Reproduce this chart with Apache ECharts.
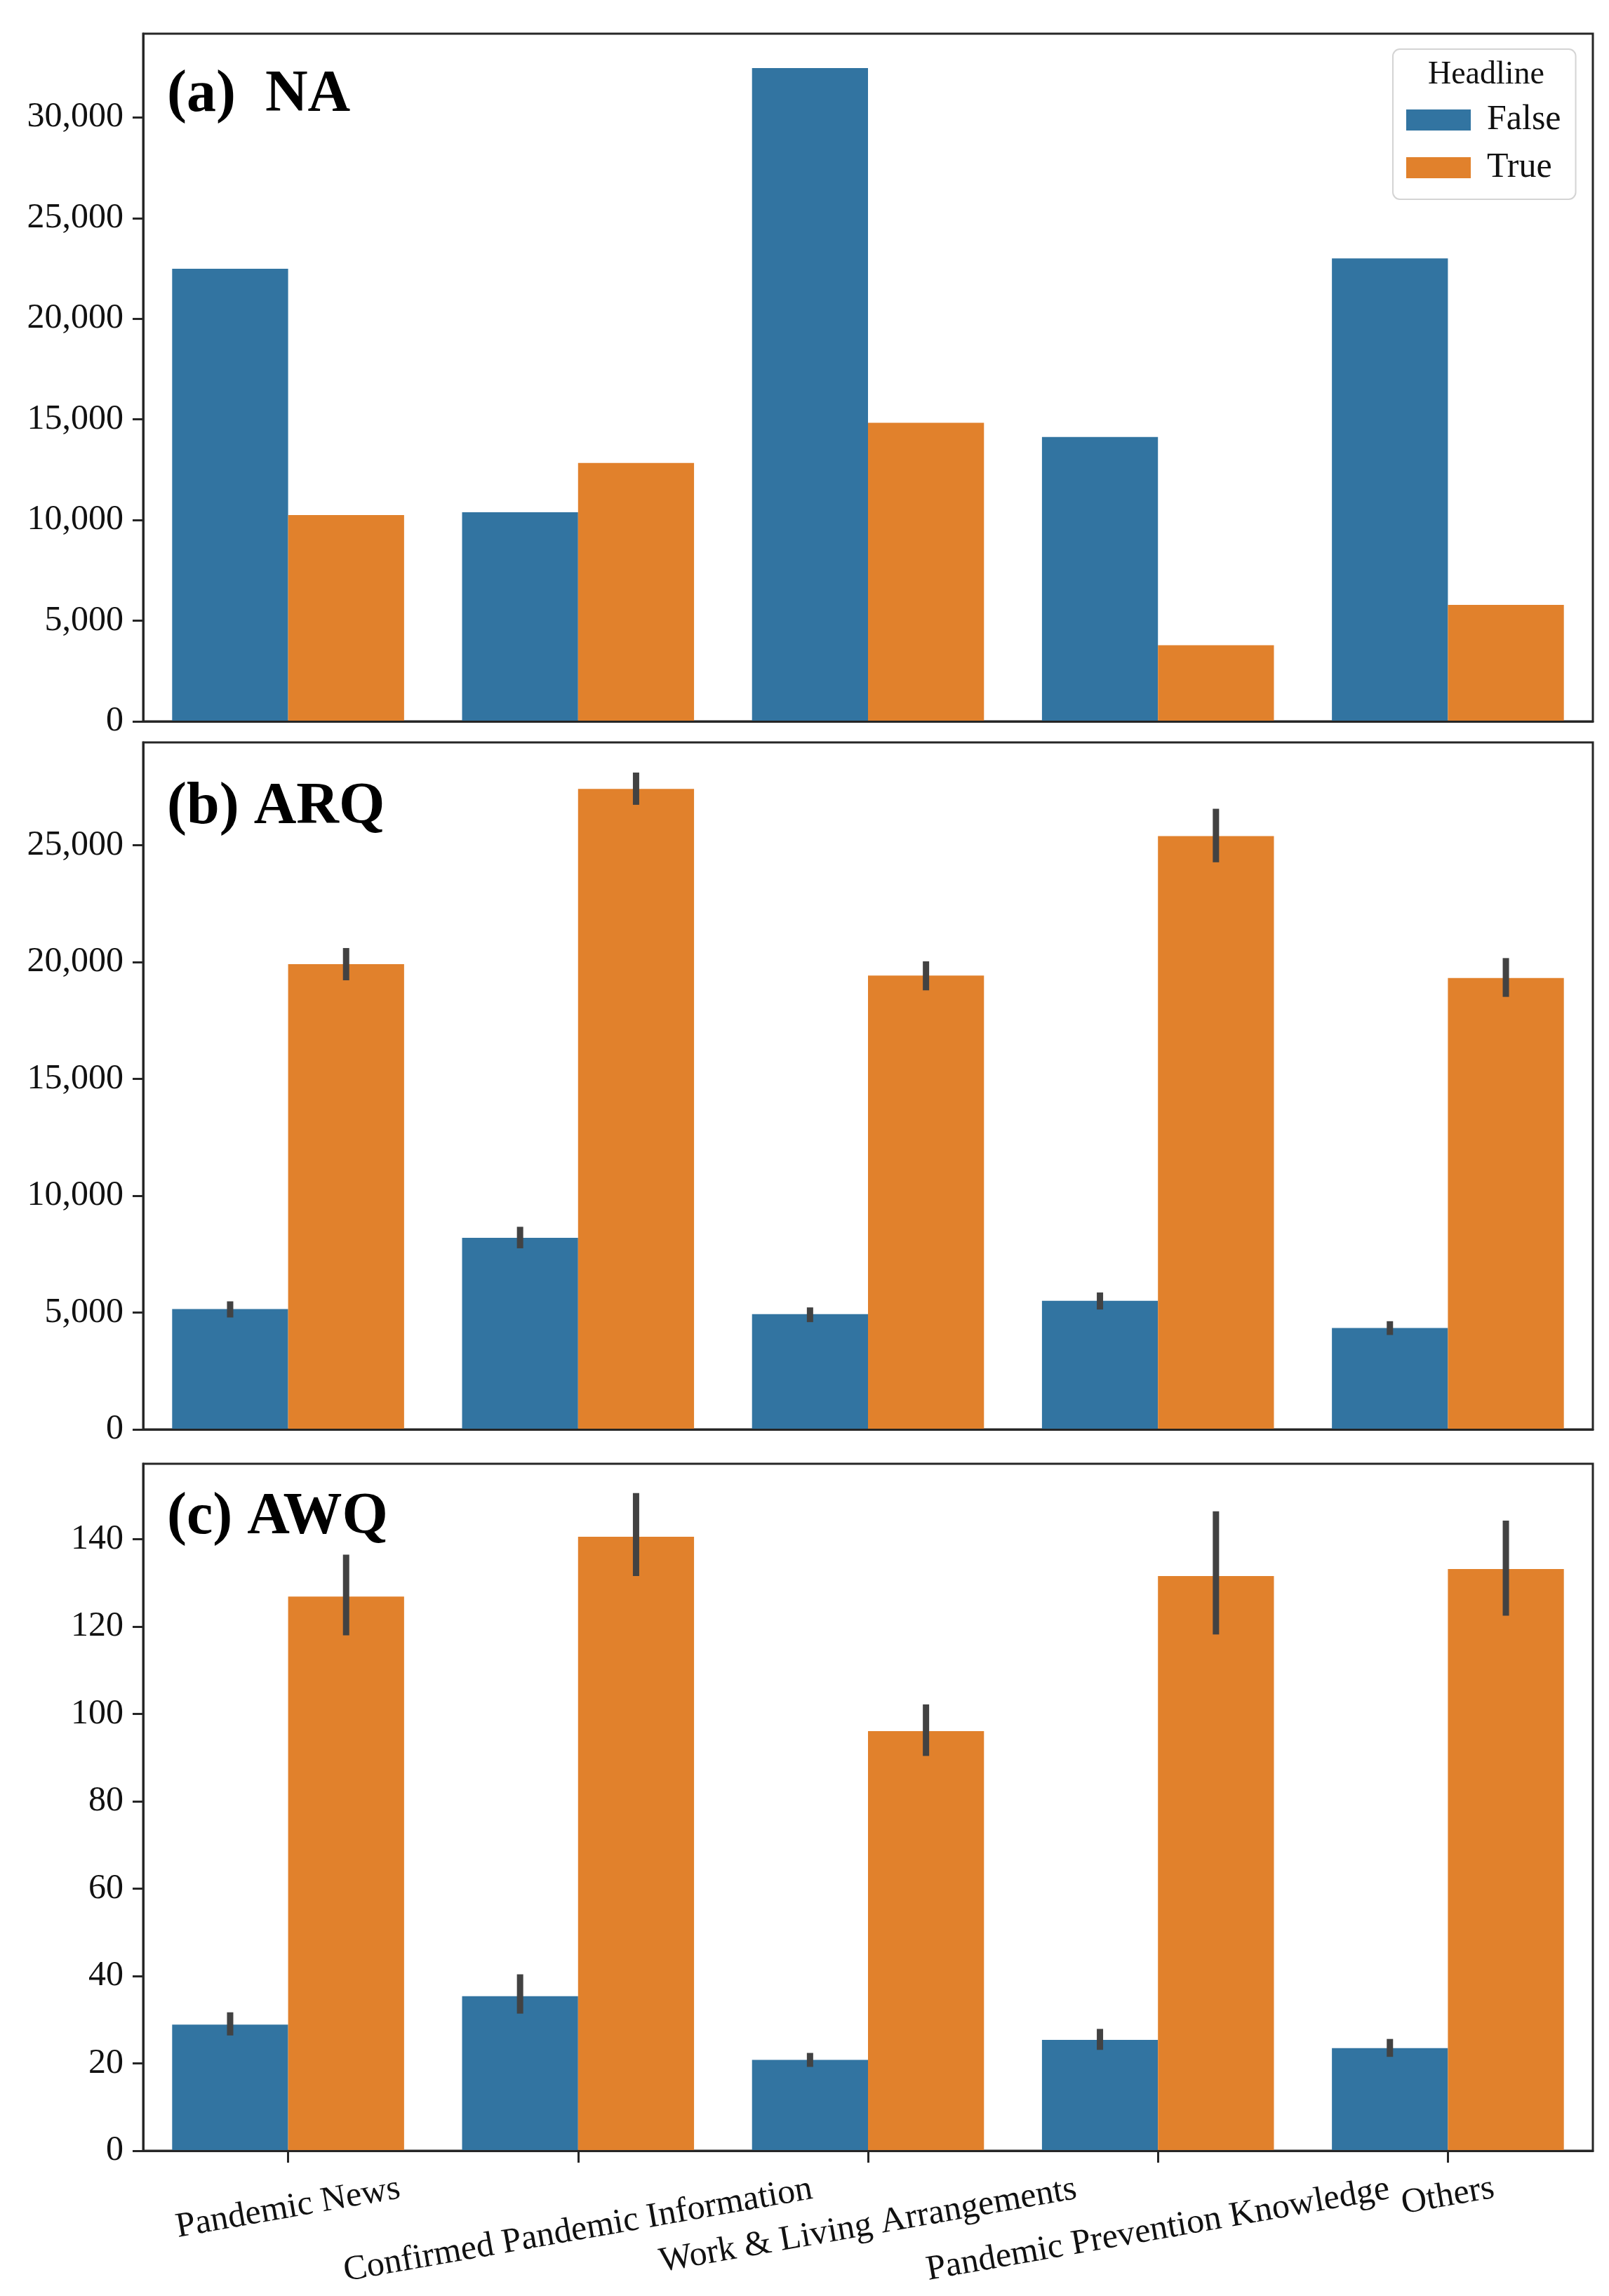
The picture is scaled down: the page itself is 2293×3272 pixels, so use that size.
<!DOCTYPE html>
<html>
<head>
<meta charset="utf-8">
<script src="https://cdn.jsdelivr.net/npm/echarts@6/dist/echarts.min.js"></script>
<style>
html,body{margin:0;padding:0;background:#fff;}
#chart{width:2293px;height:3272px;}
</style>
</head>
<body>
<div id="chart"></div>
<script>
// ---------- data ----------
const categories = ['Pandemic News', 'Confirmed Pandemic Information', 'Work & Living Arrangements', 'Pandemic Prevention Knowledge', 'Others'];
const seriesNames = ['False', 'True'];
const legendTitle = 'Headline';
const panelTitles = ['(a)  NA', '(b) ARQ', '(c) AWQ'];

const naFalse = [22480, 10390, 32450, 14130, 23000];
const naTrue  = [10250, 12840, 14830, 3780, 5790];

const arqFalse = [5150, 8200, 4930, 5500, 4340];
const arqTrue  = [19910, 27410, 19420, 25390, 19320];
const arqFalseCI = [[4790, 5480], [7750, 8670], [4590, 5220], [5130, 5860], [4040, 4630]];
const arqTrueCI  = [[19220, 20600], [26730, 28110], [18790, 20030], [24270, 26560], [18510, 20170]];

const awqFalse = [28.9, 35.4, 20.8, 25.4, 23.5];
const awqTrue  = [126.9, 140.6, 96.1, 131.6, 133.2];
const awqFalseCI = [[26.4, 31.7], [31.4, 40.4], [19.2, 22.4], [23.1, 27.9], [21.5, 25.6]];
const awqTrueCI  = [[118.0, 136.5], [131.6, 150.6], [90.4, 102.2], [118.2, 146.4], [122.5, 144.3]];

const yTicksNA  = [0, 5000, 10000, 15000, 20000, 25000, 30000];
const yTicksARQ = [0, 5000, 10000, 15000, 20000, 25000];
const yTicksAWQ = [0, 20, 40, 60, 80, 100, 120, 140];

// ---------- styling / layout ----------
const FONT = '"Liberation Serif", "Times New Roman", serif';
const BLUE = '#3274a1', ORANGE = '#e1812c', ERR = '#424242', SPINE = '#262626';
const grids = [
  {left: 204, right: 23, top: 48, height: 980},
  {left: 204, right: 23, top: 1058, height: 979},
  {left: 204, right: 23, top: 2086, height: 979}
];
const yMax = [34160, 29400, 157.3];
const yTicks = [yTicksNA, yTicksARQ, yTicksAWQ];
const ROT = 10;
const tanR = Math.tan(ROT * Math.PI / 180);

// spacer heights so that each rotated label's bounding box starts at the same depth
// and stays centred on its tick (like matplotlib's rotated, centre-aligned tick labels)
const cvs = document.createElement('canvas').getContext('2d');
cvs.font = '50px ' + FONT;
const rich = {};
categories.forEach((c, i) => {
  const L = cvs.measureText(c).width;
  const p = Math.max(1, L * tanR);
  const q = p * tanR;
  rich['s' + i] = {fontSize: 1, lineHeight: p, height: p};
  rich['t' + i] = {fontSize: 50, fontFamily: FONT, color: '#111', lineHeight: 56, padding: [0, q, 0, 0]};
});
const catIndex = {};
categories.forEach((c, i) => { catIndex[c] = i; });
function xLabelFmt(v) { const i = catIndex[v]; return '{s' + i + '| }\n{t' + i + '|' + v + '}'; }

function fmt(v) { return Number(v).toLocaleString('en-US'); }

const xAxes = [], yAxes = [], series = [];
for (let i = 0; i < 3; i++) {
  const isLast = i === 2;
  xAxes.push({
    type: 'category', gridIndex: i, data: categories, z: 5,
    axisLine: {show: true, lineStyle: {color: SPINE, width: 3}},
    axisTick: {show: isLast, alignWithLabel: true, length: 17, lineStyle: {color: SPINE, width: 3}},
    axisLabel: isLast ? {
      show: true, interval: 0, rotate: ROT, align: 'center', verticalAlign: 'middle',
      margin: 53, fontSize: 50, fontFamily: FONT, color: '#111',
      formatter: xLabelFmt, rich: rich
    } : {show: false},
    splitLine: {show: false}
  });
  yAxes.push({
    type: 'value', gridIndex: i, min: 0, max: yMax[i], z: 5,
    axisLine: {show: true, lineStyle: {color: SPINE, width: 3}},
    axisTick: {show: true, length: 15, lineStyle: {color: SPINE, width: 3}, customValues: yTicks[i]},
    axisLabel: {show: true, customValues: yTicks[i], formatter: fmt, fontSize: 50, fontFamily: FONT, color: '#111', margin: 28},
    splitLine: {show: false}
  });
}

const panelData = [
  [naFalse, naTrue, null, null],
  [arqFalse, arqTrue, arqFalseCI, arqTrueCI],
  [awqFalse, awqTrue, awqFalseCI, awqTrueCI]
];

function errRender(sign) {
  return function (params, api) {
    const idx = api.value(0);
    const base = api.coord([idx, 0]);
    const band = api.size([1, 0])[0];
    const cx = base[0] + sign * 0.2 * band;
    const lo = api.coord([idx, api.value(1)])[1];
    const hi = api.coord([idx, api.value(2)])[1];
    return {type: 'line', shape: {x1: cx, y1: lo, x2: cx, y2: hi}, style: {stroke: ERR, lineWidth: 9}};
  };
}

panelData.forEach((pd, i) => {
  [0, 1].forEach(k => {
    series.push({
      name: seriesNames[k], type: 'bar', xAxisIndex: i, yAxisIndex: i,
      data: pd[k], barGap: '0%', barCategoryGap: '20%',
      itemStyle: {color: k === 0 ? BLUE : ORANGE}, z: 2, silent: true
    });
  });
  [2, 3].forEach(k => {
    if (!pd[k]) return;
    series.push({
      name: 'ci' + i + k, type: 'custom', xAxisIndex: i, yAxisIndex: i, z: 4, silent: true,
      renderItem: errRender(k === 2 ? -1 : 1),
      data: pd[k].map((r, j) => [j, r[0], r[1]])
    });
  });
});

const titleYs = [136, 1151, 2163];
const graphics = panelTitles.map((t, i) => ({
  type: 'text', x: 238, y: titleYs[i], z: 10,
  style: {text: t, font: 'bold 84px ' + FONT, fill: '#000', align: 'left', verticalAlign: 'middle'}
}));
graphics.push({
  type: 'text', x: 2118, y: 107, z: 20,
  style: {text: legendTitle, font: '46px ' + FONT, fill: '#111', align: 'center', verticalAlign: 'middle'}
});

const option = {
  backgroundColor: '#fff',
  animation: false,
  grid: grids.map(g => Object.assign({show: true, borderColor: SPINE, borderWidth: 3, backgroundColor: 'transparent', containLabel: false}, g)),
  xAxis: xAxes,
  yAxis: yAxes,
  legend: {
    data: seriesNames, orient: 'vertical', left: 1985, top: 70,
    padding: [76, 21, 20, 19], itemWidth: 92, itemHeight: 30, itemGap: 18,
    icon: 'rect', backgroundColor: 'rgba(255,255,255,0.8)', borderColor: '#d4d4d4', borderWidth: 2, borderRadius: 10,
    textStyle: {fontSize: 50, fontFamily: FONT, color: '#111', lineHeight: 45, padding: [0, 0, 0, 18]},
    selectedMode: false, z: 15
  },
  graphic: graphics,
  series: series
};

const chart = echarts.init(document.getElementById('chart'), null, {renderer: 'canvas'});
chart.setOption(option);
</script>
</body>
</html>
